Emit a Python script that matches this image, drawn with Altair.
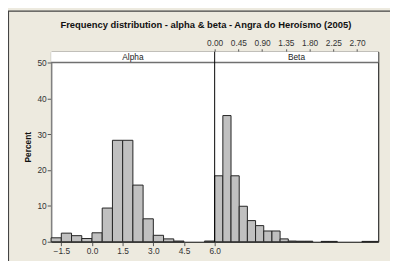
import altair as alt
import pandas as pd

# ---- data ----
alpha_bin_start = [-2.0, -1.5, -1.0, -0.5, 0.0, 0.5, 1.0, 1.5, 2.0, 2.5, 3.0, 3.5, 4.0, 4.5, 5.0, 5.5]
alpha_percent = [1.1, 2.4, 1.7, 0.9, 2.5, 9.4, 28.3, 28.3, 15.8, 6.4, 1.8, 0.8, 0.2, 0.0, 0.0, 0.2]
alpha_bin_width = 0.5

beta_bin_start = [0.0, 0.155, 0.31, 0.465, 0.62, 0.775, 0.93, 1.085, 1.24, 1.395,
                  1.55, 1.705, 1.86, 2.015, 2.17, 2.325, 2.48, 2.635, 2.79, 2.945]
beta_percent = [18.4, 35.2, 18.4, 9.9, 5.9, 4.5, 3.0, 3.0, 0.8, 0.2,
                0.15, 0.15, 0.0, 0.1, 0.1, 0.0, 0.0, 0.0, 0.1, 0.1]
beta_bin_width = 0.155

alpha_ticks = [-1.5, 0.0, 1.5, 3.0, 4.5, 6.0]
beta_ticks = [0.0, 0.45, 0.90, 1.35, 1.80, 2.25, 2.70]
y_ticks = [0, 10, 20, 30, 40, 50]
panel_labels = ["Alpha", "Beta"]
title_text = "Frequency distribution - alpha & beta - Angra do Heroísmo (2005)"

alpha_df = pd.DataFrame({"start": alpha_bin_start, "pct": alpha_percent})
alpha_df["end"] = alpha_df["start"] + alpha_bin_width
alpha_df = alpha_df[alpha_df["pct"] > 0]
beta_df = pd.DataFrame({"start": beta_bin_start, "pct": beta_percent})
beta_df["end"] = beta_df["start"] + beta_bin_width
beta_df = beta_df[beta_df["pct"] > 0]

W, H = 334, 194
FONT = "Liberation Sans"
BAR_FILL = "#C0C0C0"

y_scale = alt.Scale(domain=[0, 53], nice=False, zero=True)
y_axis = alt.Axis(values=y_ticks, title="Percent", grid=False, tickSize=4,
                  labelPadding=1, titlePadding=5, domain=True,
                  domainColor="#808080", domainWidth=1.5, tickColor="#555555",
                  labelColor="#333333", labelFontSize=8.5, labelFont=FONT,
                  titleFont=FONT, titleFontSize=8.5, titleFontWeight="bold",
                  titleColor="#111111")

alpha_bars = alt.Chart(alpha_df).mark_bar(fill=BAR_FILL, stroke="#222222", strokeWidth=1).encode(
    x=alt.X("start:Q", scale=alt.Scale(domain=[-2, 14], nice=False, zero=False),
            axis=alt.Axis(values=alpha_ticks, format=".1f", title=None, grid=False, domain=False,
                          tickSize=4, tickColor="#555555", labelPadding=1, labelColor="#333333",
                          labelFontSize=8.5, labelFont=FONT, orient="bottom")),
    x2="end:Q",
    y=alt.Y("pct:Q", scale=y_scale, axis=y_axis),
    y2=alt.datum(0),
)

beta_bars = alt.Chart(beta_df).mark_bar(fill=BAR_FILL, stroke="#222222", strokeWidth=1).encode(
    x=alt.X("start:Q", scale=alt.Scale(domain=[-3.1, 3.1], nice=False, zero=False),
            axis=alt.Axis(values=beta_ticks, format=".2f", title=None, grid=False, domain=False,
                          tickSize=3, tickColor="#555555", labelPadding=1, labelColor="#333333",
                          labelFontSize=8.5, labelFont=FONT, orient="top")),
    x2="end:Q",
    y=alt.Y("pct:Q", scale=y_scale, axis=y_axis),
    y2=alt.datum(0),
)

one = pd.DataFrame({"k": [0]})
strip = alt.Chart(one).mark_rect(fill="white", stroke=None).encode(
    x=alt.value(0), x2=alt.value(W), y=alt.value(0), y2=alt.value(11))
strip_line = alt.Chart(one).mark_rule(color="#707070", strokeWidth=1.5).encode(
    x=alt.value(0), x2=alt.value(W), y=alt.value(11))
divider = alt.Chart(one).mark_rule(color="#000000", strokeWidth=1).encode(
    x=alt.value(W / 2), y=alt.value(0), y2=alt.value(H))
labels_df = pd.DataFrame({"label": panel_labels, "px": [W / 4, 3 * W / 4]})
strip_text = alt.Chart(labels_df).mark_text(font=FONT, fontSize=8.5, color="#222222",
                                            baseline="middle", align="center").encode(
    x=alt.X("px:Q", scale=alt.Scale(domain=[0, W], range=[0, W]), axis=None),
    y=alt.value(5.5), text="label:N")
border = alt.Chart(one).mark_rect(fill=None, stroke="#444444", strokeWidth=1.2, clip=False).encode(
    x=alt.value(-43.5), x2=alt.value(W + 20), y=alt.value(-41.5), y2=alt.value(218))

chart = alt.layer(border, alpha_bars, beta_bars, strip, strip_line, divider, strip_text).resolve_scale(
    x="independent"
).properties(
    width=W, height=H,
    autosize=alt.AutoSizeParams(type="none"),
    padding={"left": 44, "top": 42, "right": 12, "bottom": 17},
    background="#EDEADF",
    title=alt.TitleParams(title_text, font=FONT, fontSize=9.6, fontWeight="bold",
                          color="#111111", anchor="middle", dx=-9, offset=-19),
).configure_view(stroke="#000000", strokeWidth=1, fill="white")

chart.save("out.html", embed_options={"renderer": "svg", "actions": False})
